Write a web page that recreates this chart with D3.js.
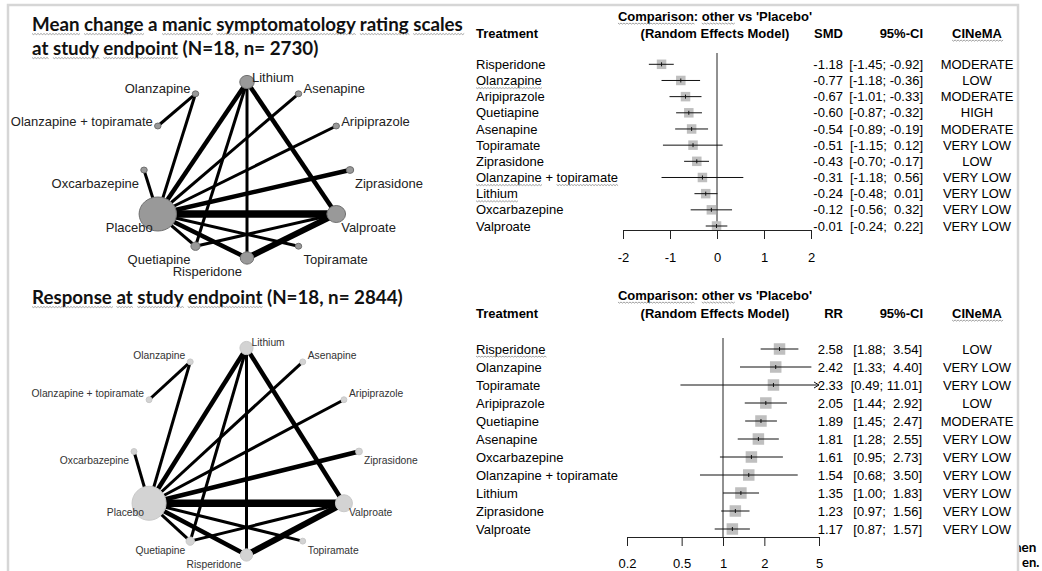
<!DOCTYPE html>
<html>
<head>
<meta charset="utf-8">
<script src="https://cdn.jsdelivr.net/npm/d3@7"></script>
<style>
  body { margin: 0; background: #fff; }
  svg text { font-family: "Liberation Sans", Arial, sans-serif; }
</style>
</head>
<body>
<svg id="chart" width="1042" height="571"></svg>
<script>
// network: treatments in netgraph order (alphabetical, counter-clockwise from 30 deg)
const treatments = ["Aripiprazole", "Asenapine", "Lithium", "Olanzapine", "Olanzapine + topiramate",
  "Oxcarbazepine", "Placebo", "Quetiapine", "Risperidone", "Topiramate", "Valproate", "Ziprasidone"];
const patients = [30, 30, 150, 30, 30, 30, 1000, 60, 130, 30, 250, 40];
// [from, to, number of studies]
const edges = [
  ["Aripiprazole", "Placebo", 1], ["Asenapine", "Placebo", 1], ["Lithium", "Placebo", 2],
  ["Lithium", "Quetiapine", 1], ["Lithium", "Risperidone", 1], ["Lithium", "Valproate", 2],
  ["Olanzapine", "Olanzapine + topiramate", 1], ["Olanzapine", "Placebo", 1],
  ["Oxcarbazepine", "Placebo", 1], ["Placebo", "Quetiapine", 1], ["Placebo", "Risperidone", 2],
  ["Placebo", "Topiramate", 1], ["Placebo", "Valproate", 4], ["Placebo", "Ziprasidone", 2],
  ["Quetiapine", "Valproate", 1], ["Risperidone", "Valproate", 3]
];

// forest 1: mean change (SMD)
const smdTreatments = ["Risperidone", "Olanzapine", "Aripiprazole", "Quetiapine", "Asenapine", "Topiramate",
  "Ziprasidone", "Olanzapine + topiramate", "Lithium", "Oxcarbazepine", "Valproate"];
const smdEst = [-1.18, -0.77, -0.67, -0.60, -0.54, -0.51, -0.43, -0.31, -0.24, -0.12, -0.01];
const smdLow = [-1.45, -1.18, -1.01, -0.87, -0.89, -1.15, -0.70, -1.18, -0.48, -0.56, -0.24];
const smdHigh = [-0.92, -0.36, -0.33, -0.32, -0.19, 0.12, -0.17, 0.56, 0.01, 0.32, 0.22];
const smdCinema = ["MODERATE", "LOW", "MODERATE", "HIGH", "MODERATE", "VERY LOW", "LOW",
  "VERY LOW", "VERY LOW", "VERY LOW", "VERY LOW"];
const smdTicks = [-2, -1, 0, 1, 2];

// forest 2: response (RR)
const rrTreatments = ["Risperidone", "Olanzapine", "Topiramate", "Aripiprazole", "Quetiapine", "Asenapine",
  "Oxcarbazepine", "Olanzapine + topiramate", "Lithium", "Ziprasidone", "Valproate"];
const rrEst = [2.58, 2.42, 2.33, 2.05, 1.89, 1.81, 1.61, 1.54, 1.35, 1.23, 1.17];
const rrLow = [1.88, 1.33, 0.49, 1.44, 1.45, 1.28, 0.95, 0.68, 1.00, 0.97, 0.87];
const rrHigh = [3.54, 4.40, 11.01, 2.92, 2.47, 2.55, 2.73, 3.50, 1.83, 1.56, 1.57];
const rrCinema = ["LOW", "VERY LOW", "VERY LOW", "LOW", "MODERATE", "VERY LOW", "VERY LOW",
  "VERY LOW", "VERY LOW", "VERY LOW", "VERY LOW"];
const rrTicks = [0.2, 0.5, 1, 2, 5];

const title1 = ["Mean change a manic symptomatology rating scales", "at study endpoint (N=18, n= 2730)"];
const title2 = "Response at study endpoint (N=18, n= 2844)";

const svg = d3.select("#chart");
const fmt = d3.formatLocale({ decimal: ".", thousands: ",", grouping: [3], currency: ["", ""], minus: "-" })
  .format(".2f");

// clipped text of the neighbouring slide element
svg.append("text").attr("x", 1014).attr("y", 552).attr("font-family", "Lato")
  .attr("font-weight", 700).attr("font-size", 13.5).style("font-family", "Lato").text("nen");
svg.append("text").attr("x", 1022).attr("y", 567).attr("font-family", "Lato")
  .attr("font-weight", 700).attr("font-size", 13).style("font-family", "Lato").text("en.");

// slide panel
svg.append("rect")
  .attr("x", 8).attr("y", 5).attr("width", 1010).attr("height", 600)
  .attr("fill", "#fff").attr("stroke", "#d6d6d6").attr("stroke-width", 2.5);

// spell-check squiggles under words
function squiggle(textSel, words) {
  const node = textSel.node();
  const s = node.textContent;
  const parent = d3.select(node.parentNode);
  words.forEach(w => {
    const i = s.indexOf(w);
    if (i < 0) return;
    const p0 = node.getStartPositionOfChar(i);
    const x1 = node.getEndPositionOfChar(i + w.trim().length - 1).x;
    const yb = p0.y + 2.5;
    let p = `M${p0.x},${yb}`;
    let k = 0;
    for (let x = p0.x; x < x1; x += 1.5, k++) p += `L${x + 1.5},${yb + (k % 2 ? 0 : 1.1)}`;
    parent.append("path").attr("d", p).attr("fill", "none")
      .attr("stroke", "#8c8c8c").attr("stroke-width", 0.8);
  });
}

// ---------- titles ----------
const tg = svg.append("g").attr("font-weight", 700).attr("fill", "#111");
const t1a = tg.append("text").attr("x", 32).attr("y", 31).attr("font-size", 20)
  .style("font-family", "Lato").text(title1[0]);
const titleSize = 20 * 431 / t1a.node().getComputedTextLength();
t1a.attr("font-size", titleSize);
const t1b = tg.append("text").attr("x", 32).attr("y", 55).attr("font-size", titleSize)
  .style("font-family", "Lato").text(title1[1]);
const t2 = tg.append("text").attr("x", 32).attr("y", 304).attr("font-size", titleSize)
  .style("font-family", "Lato").text(title2);
squiggle(t1a, ["Mean", "change", "manic", "symptomatology", "rating", "scales"]);
squiggle(t1b, ["at", "study", "endpoint"]);
squiggle(t2, ["Response", "at ", "study", "endpoint"]);

// ---------- network graphs ----------
const nodeR = d3.scaleSqrt().domain([0, d3.max(patients)]).range([0, 17]);
const edgeW = d3.scaleLinear().domain([1, 4]).range([3, 7.5]);
const angle = d3.scaleLinear().domain([0, treatments.length]).range([Math.PI / 6, Math.PI / 6 + 2 * Math.PI]);

function drawNetwork(cfg) {
  const g = svg.append("g");
  const x = d3.scaleLinear().domain([-1, 1]).range(cfg.xRange);
  const y = d3.scaleLinear().domain([-1, 1]).range(cfg.yRange);
  const nodes = treatments.map((t, i) => {
    const a = angle(i);
    return { name: t, a, cx: x(Math.cos(a)), cy: y(Math.sin(a)), r: nodeR(patients[i]) };
  });
  const byName = new Map(nodes.map(n => [n.name, n]));

  g.selectAll("line").data(edges).join("line")
    .attr("x1", d => byName.get(d[0]).cx).attr("y1", d => byName.get(d[0]).cy)
    .attr("x2", d => byName.get(d[1]).cx).attr("y2", d => byName.get(d[1]).cy)
    .attr("stroke", "#000").attr("stroke-width", d => edgeW(d[2]));

  g.selectAll("ellipse").data(nodes).join("ellipse")
    .attr("cx", d => d.cx).attr("cy", d => d.cy)
    .attr("rx", d => d.r * cfg.aspect).attr("ry", d => d.r)
    .attr("fill", cfg.fill).attr("stroke", cfg.stroke).attr("stroke-width", 1);

  g.selectAll("text").data(nodes).join("text")
    .attr("x", d => d.cx + (Math.cos(d.a) >= 0 ? cfg.dx : -cfg.dx))
    .attr("y", d => d.cy + (Math.sin(d.a) > 0 ? -cfg.up : cfg.down))
    .attr("dy", "0.35em")
    .attr("text-anchor", d => Math.cos(d.a) >= 0 ? "start" : "end")
    .attr("font-size", cfg.fontSize).attr("fill", cfg.textColor)
    .text(d => d.name);
}

drawNetwork({ xRange: [144, 350], yRange: [258, 82], aspect: 1.1, fill: "#999", stroke: "#6f6f6f",
  dx: 5, up: 5, down: 13, fontSize: 13, textColor: "#222" });
drawNetwork({ xRange: [134, 359], yRange: [555, 348], aspect: 1, fill: "#d3d3d3", stroke: "#c9c9c9",
  dx: 5, up: 6, down: 9, fontSize: 10.3, textColor: "#333" });

// ---------- forest plots ----------
function padCol(vals) {
  const s = vals.map(fmt);
  const w = d3.max(s, d => d.length);
  return s.map(d => d.padStart(w, " "));
}

function drawForest(cfg) {
  const g = svg.append("g").attr("font-size", 13).attr("fill", "#000");
  const y = d3.scalePoint().domain(cfg.treatments).range(cfg.rowRange);
  const x = cfg.x;
  const [dMin, dMax] = x.domain();

  // headers
  const hdr = g.append("g").attr("font-weight", 700);
  const cmp = hdr.append("text").attr("x", 715).attr("y", cfg.headY[0]).attr("dy", "0.35em")
    .attr("text-anchor", "middle").text("Comparison: other vs 'Placebo'");
  hdr.append("text").attr("x", 715).attr("y", cfg.headY[1]).attr("dy", "0.35em")
    .attr("text-anchor", "middle").text("(Random Effects Model)");
  hdr.append("text").attr("x", 476).attr("y", cfg.headY[1]).attr("dy", "0.35em").text("Treatment");
  hdr.append("text").attr("x", 843).attr("y", cfg.headY[1]).attr("dy", "0.35em")
    .attr("text-anchor", "end").text(cfg.measure);
  hdr.append("text").attr("x", 923).attr("y", cfg.headY[1]).attr("dy", "0.35em")
    .attr("text-anchor", "end").text("95%-CI");
  const cin = hdr.append("text").attr("x", 977).attr("y", cfg.headY[1]).attr("dy", "0.35em")
    .attr("text-anchor", "middle").text("CINeMA");
  squiggle(cmp, ["Comparison", "other"]);
  squiggle(cin, ["CINeMA"]);

  // reference line
  g.append("line").attr("x1", x(cfg.ref)).attr("x2", x(cfg.ref))
    .attr("y1", cfg.refTop).attr("y2", cfg.axisY).attr("stroke", "#222").attr("stroke-width", 1);

  const rows = cfg.treatments.map((t, i) => ({
    t, est: cfg.est[i], lo: cfg.low[i], hi: cfg.high[i], cinema: cfg.cinema[i]
  }));

  // squares
  g.selectAll("rect.sq").data(rows).join("rect").attr("class", "sq")
    .attr("x", d => x(d.est) - cfg.sq / 2).attr("y", d => y(d.t) - cfg.sq / 2)
    .attr("width", cfg.sq).attr("height", cfg.sq).attr("fill", "#bfbfbf");

  // confidence intervals
  g.selectAll("line.ci").data(rows).join("line").attr("class", "ci")
    .attr("x1", d => x(Math.max(d.lo, dMin))).attr("x2", d => x(Math.min(d.hi, dMax)))
    .attr("y1", d => y(d.t)).attr("y2", d => y(d.t))
    .attr("stroke", "#111").attr("stroke-width", 1);
  g.selectAll("path.arrow").data(rows.filter(d => d.hi > dMax)).join("path").attr("class", "arrow")
    .attr("d", d => `M${x(dMax) - 5},${y(d.t) - 3}L${x(dMax)},${y(d.t)}L${x(dMax) - 5},${y(d.t) + 3}`)
    .attr("fill", "none").attr("stroke", "#111").attr("stroke-width", 1);
  g.selectAll("line.tick-est").data(rows).join("line").attr("class", "tick-est")
    .attr("x1", d => x(d.est)).attr("x2", d => x(d.est))
    .attr("y1", d => y(d.t) - 2).attr("y2", d => y(d.t) + 2)
    .attr("stroke", "#111").attr("stroke-width", 1);

  // text columns
  const estTxt = padCol(cfg.est), loTxt = padCol(cfg.low), hiTxt = padCol(cfg.high);
  const labels = g.selectAll("text.lab").data(rows).join("text").attr("class", "lab")
    .attr("x", 476).attr("y", d => y(d.t)).attr("dy", "0.35em").text(d => d.t);
  labels.each(function (d) {
    if (cfg.squiggle[d.t]) squiggle(d3.select(this), cfg.squiggle[d.t]);
  });
  g.selectAll("text.est").data(rows).join("text").attr("class", "est")
    .attr("x", 843).attr("y", d => y(d.t)).attr("dy", "0.35em").attr("text-anchor", "end")
    .attr("xml:space", "preserve").style("white-space", "pre")
    .text((d, i) => estTxt[i]);
  g.selectAll("text.ci").data(rows).join("text").attr("class", "ci")
    .attr("x", cfg.ciRight).attr("y", d => y(d.t)).attr("dy", "0.35em").attr("text-anchor", "end")
    .attr("xml:space", "preserve").style("white-space", "pre")
    .text((d, i) => `[${loTxt[i]}; ${hiTxt[i]}]`);
  g.selectAll("text.cin").data(rows).join("text").attr("class", "cin")
    .attr("x", 977).attr("y", d => y(d.t)).attr("dy", "0.35em").attr("text-anchor", "middle")
    .text(d => d.cinema);

  // axis
  g.append("g").attr("transform", `translate(0,${cfg.axisY})`)
    .call(d3.axisBottom(x).tickValues(cfg.ticks).tickSize(9).tickSizeOuter(0).tickPadding(cfg.tickPad)
      .tickFormat(d => String(d)))
    .attr("font-size", 13).attr("font-family", "Liberation Sans, Arial, sans-serif")
    .call(a => a.selectAll("path,line").attr("stroke", "#222"))
    .call(a => a.selectAll("text").attr("fill", "#000"));
}

drawForest({
  treatments: smdTreatments, est: smdEst, low: smdLow, high: smdHigh, cinema: smdCinema, ticks: smdTicks,
  x: d3.scaleLinear().domain([-2, 2]).range([623, 811]), ref: 0, measure: "SMD",
  rowRange: [64.3, 226], headY: [16, 33], refTop: 53, axisY: 230, sq: 9.5, ciRight: 923, tickPad: 14,
  squiggle: { "Olanzapine": ["Olanzapine"], "Olanzapine + topiramate": ["Olanzapine", "topiramate"], "Lithium": ["Lithium"] }
});
drawForest({
  treatments: rrTreatments, est: rrEst, low: rrLow, high: rrHigh, cinema: rrCinema, ticks: rrTicks,
  x: d3.scaleLog().domain([0.2, 5]).range([627, 819]), ref: 1, measure: "RR",
  rowRange: [349, 529], headY: [295, 313], refTop: 338, axisY: 537, sq: 11.5, ciRight: 922, tickPad: 13,
  squiggle: { "Risperidone": ["Risperidone"] }
});
</script>
</body>
</html>
